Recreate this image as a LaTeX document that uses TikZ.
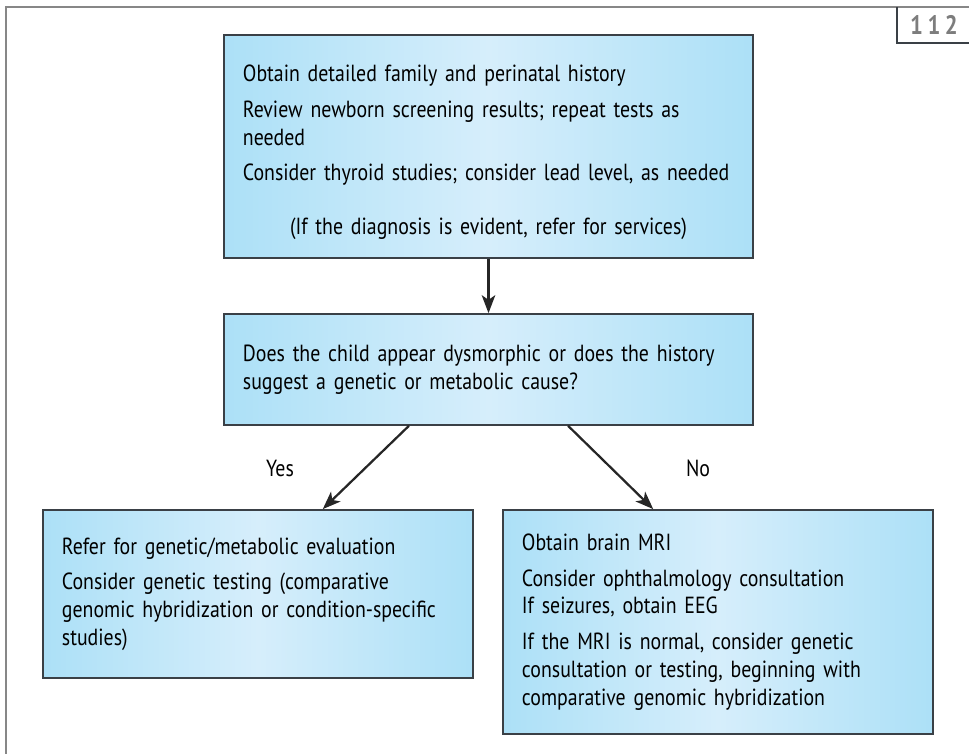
\documentclass[tikz,border=0pt]{standalone}
\usepackage{fontspec}
\setmainfont{PT Sans}[FakeStretch=0.85]
\usetikzlibrary{arrows.meta,calc}

\definecolor{flowBlue}{RGB}{172,224,247}
\definecolor{flowBlueLt}{RGB}{214,238,251}
\definecolor{flowEdge}{RGB}{58,64,70}
\definecolor{frameGray}{RGB}{135,135,135}
\definecolor{tabGray}{RGB}{125,125,125}

\newcommand{\flowfont}{\fontsize{16.6}{19.8}\selectfont}
\newcommand{\flowgap}{\par\vspace{5.5pt}}

\tikzset{
  flowbox/.style={draw=flowEdge, line width=1.2pt,
    left color=flowBlue, right color=flowBlue, middle color=flowBlueLt,
    inner xsep=0.475cm, align=left, font=\flowfont},
  flowarrow/.style={-{Stealth[length=0.45cm,width=0.34cm,inset=0.12cm]}, line width=1.6pt, draw=black!85},
  answer/.style={font=\flowfont}
}

\begin{document}
\begin{tikzpicture}[x=0.025cm, y=-0.025cm]
\useasboundingbox (0,0) rectangle (969,754);
%% ---- page frame and number tab ----
\draw[frameGray, line width=1.3pt] (6,754) -- (6,7) -- (969,7);
\draw[flowEdge, line width=0.9pt] (897,7) |- (969,43);
\node[font=\fontsize{19}{20}\selectfont\bfseries, text=tabGray] (tabnum) at (934,25) {1\,1\,2};
%% ---- boxes ----
\node[flowbox, minimum width=13.225cm, minimum height=5.575cm, text width=12.275cm] (history) at (488.5,146.5)
  {\rule{0pt}{20pt}Obtain detailed family and perinatal history\flowgap
   Review newborn screening results; repeat tests as\\needed\flowgap
   Consider thyroid studies; consider lead level, as needed\par\vspace{18pt}
   {\centering (If the diagnosis is evident, refer for services)\par}};
\node[flowbox, minimum width=13.225cm, minimum height=2.775cm, text width=12.275cm] (question) at (488.5,369.5)
  {Does the child appear dysmorphic or does the history\\suggest a genetic or metabolic cause?};
\node[flowbox, minimum width=10.75cm, minimum height=4.2cm, text width=9.8cm] (yesbox) at (258,594)
  {Refer for genetic/metabolic evaluation\flowgap
   Consider genetic testing (comparative\\genomic hybridization or condition-specific\\studies)};
\node[flowbox, minimum width=10.75cm, minimum height=5.6cm, text width=9.8cm] (nobox) at (718,622)
  {Obtain brain MRI\flowgap
   Consider ophthalmology consultation\\If seizures, obtain EEG\flowgap
   If the MRI is normal, consider genetic\\consultation or testing, beginning with\\comparative genomic hybridization};
%% ---- connectors ----
\draw[flowarrow] (history.south) -- (question.north);
\draw[flowarrow] ($(question.south west)!.35!(question.south east)$) -- ($(yesbox.north west)!.65!(yesbox.north east)$);
\draw[flowarrow] ($(question.south west)!.65!(question.south east)$) -- ($(nobox.north west)!.35!(nobox.north east)$);
\node[answer] (yeslbl) at (280,468) {Yes};
\node[answer] (nolbl) at (698,468) {No};
\end{tikzpicture}
\end{document}
